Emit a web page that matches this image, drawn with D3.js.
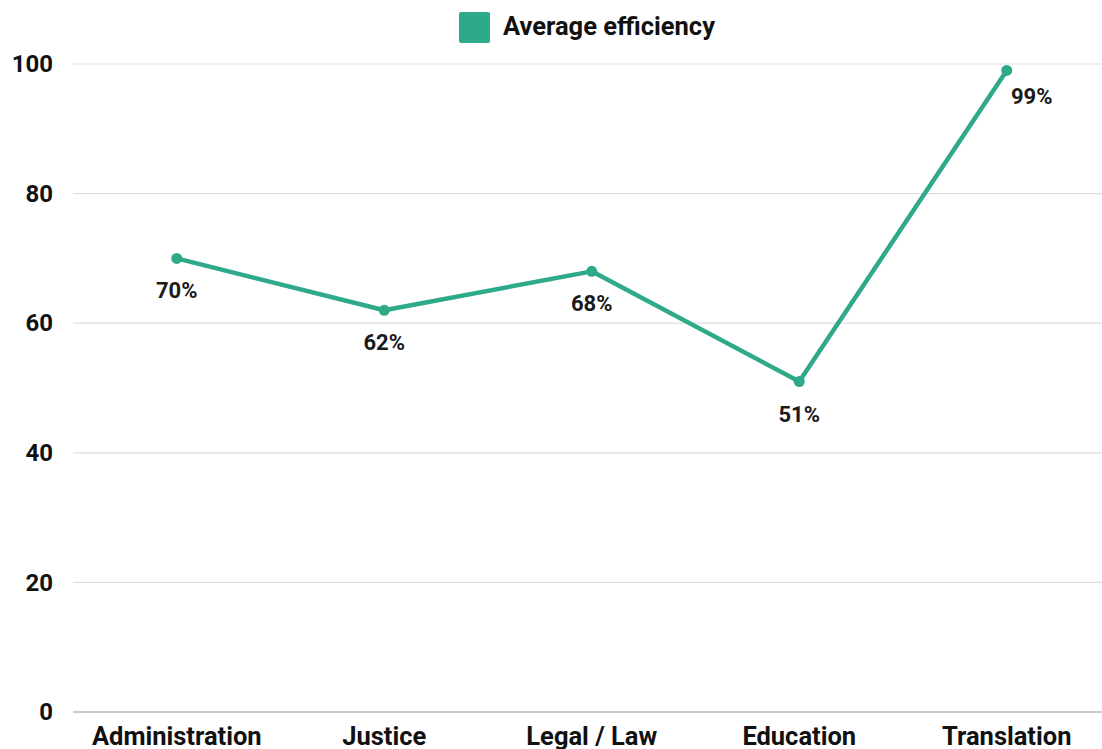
<!DOCTYPE html>
<html>
<head>
<meta charset="utf-8">
<script src="https://cdn.jsdelivr.net/npm/d3@7"></script>
<style>
  html, body { margin: 0; padding: 0; background: #fff; }
  svg { display: block; font-family: Roboto, "Noto Sans", sans-serif; }
</style>
</head>
<body>
<svg id="chart" width="1102" height="749"></svg>
<script>
// Efficiency by sector
const categories = ["Administration", "Justice", "Legal / Law", "Education", "Translation"];
const efficiency = [70, 62, 68, 51, 99];
const yTicks = [0, 20, 40, 60, 80, 100];
const seriesName = "Average efficiency";

const W = 1102, H = 749;
const color = "#2ea98a";
const plot = { left: 73, right: W, top: 64, bottom: 712 };

const svg = d3.select("#chart");

const y = d3.scaleLinear().domain([0, 100]).range([plot.bottom, plot.top]);
// categories sit in equal-width bands; the last band runs past the right edge
const x = d3.scaleBand().domain(categories).range([plot.left, plot.left + 5 * 207.5]).padding(0);
const cx = d => x(d) + x.bandwidth() / 2;

// gridlines
svg.append("g")
  .selectAll("line")
  .data(yTicks)
  .join("line")
  .attr("x1", plot.left).attr("x2", plot.right)
  .attr("y1", d => y(d)).attr("y2", d => y(d))
  .attr("stroke", d => d === 0 ? "#b7b7b7" : "#dedede")
  .attr("stroke-width", d => d === 0 ? 1.5 : 1.2);

// y axis labels
const yAxis = svg.append("g")
  .attr("transform", `translate(${plot.left - 20},0)`)
  .call(d3.axisLeft(y).tickValues(yTicks).tickSize(0).tickPadding(0).tickFormat(d3.format("d")));
yAxis.select(".domain").remove();
yAxis.selectAll("text")
  .attr("fill", "#111")
  .style("font-size", "24px")
  .style("font-weight", "700")
  .style("font-family", "Roboto, sans-serif");

// x axis labels
const xAxis = svg.append("g")
  .attr("transform", `translate(0,${plot.bottom})`)
  .call(d3.axisBottom(x).tickSize(0).tickPadding(0));
xAxis.select(".domain").remove();
xAxis.selectAll("text")
  .attr("dy", null)
  .attr("y", 33)
  .attr("fill", "#111")
  .style("font-size", "25.5px")
  .style("font-weight", "700")
  .style("font-family", "Roboto, sans-serif");

const pts = categories.map((c, i) => ({ c, v: efficiency[i] }));

// line
svg.append("path")
  .datum(pts)
  .attr("fill", "none")
  .attr("stroke", color)
  .attr("stroke-width", 4.5)
  .attr("stroke-linejoin", "round")
  .attr("d", d3.line().x(d => cx(d.c)).y(d => y(d.v)));

// points
svg.append("g")
  .selectAll("circle")
  .data(pts)
  .join("circle")
  .attr("cx", d => cx(d.c))
  .attr("cy", d => y(d.v))
  .attr("r", 5.5)
  .attr("fill", color);

// value labels
svg.append("g")
  .selectAll("text")
  .data(pts)
  .join("text")
  .attr("x", (d, i) => cx(d.c) + (i === pts.length - 1 ? 25 : 0))
  .attr("y", (d, i) => y(d.v) + (i === pts.length - 1 ? 34 : 40))
  .attr("text-anchor", "middle")
  .attr("fill", "#1a1a1a")
  .style("font-size", "22px")
  .style("font-weight", "700")
  .text(d => d.v + "%");

// legend
const lg = svg.append("g");
lg.append("rect")
  .attr("x", 459).attr("y", 12)
  .attr("width", 31).attr("height", 31)
  .attr("rx", 2)
  .attr("fill", color);
lg.append("text")
  .attr("x", 503).attr("y", 35)
  .attr("fill", "#111")
  .style("font-size", "25.5px")
  .style("font-weight", "700")
  .text(seriesName);
</script>
</body>
</html>
